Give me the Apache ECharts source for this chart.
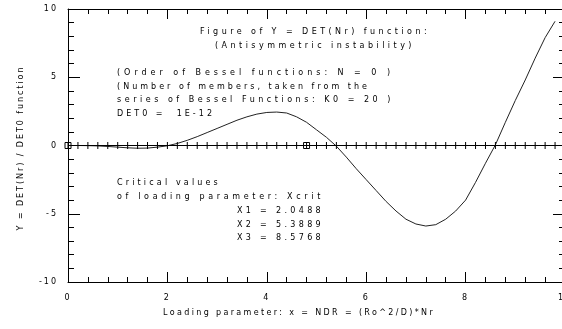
<!DOCTYPE html>
<html><head><meta charset="utf-8">
<script src="https://cdn.jsdelivr.net/npm/echarts@6/dist/echarts.min.js"></script>
<style>
html,body{margin:0;padding:0;background:#fff;}
#c{width:562px;height:329px;}
</style></head>
<body><div id="c"></div>
<script>
const xVals = [0,0.2,0.4,0.6,0.8,1.0,1.2,1.4,1.6,1.8,2.0,2.2,2.4,2.6,2.8,3.0,3.2,3.4,3.6,3.8,4.0,4.2,4.4,4.6,4.8,5.0,5.2,5.4,5.6,5.8,6.0,6.2,6.4,6.6,6.8,7.0,7.2,7.4,7.6,7.8,8.0,8.2,8.4,8.6,8.8,9.0,9.2,9.4,9.6,9.8];
const yVals = [0,0,-0.01,-0.03,-0.07,-0.12,-0.17,-0.2,-0.19,-0.12,-0.02,0.15,0.38,0.65,0.95,1.25,1.55,1.85,2.1,2.3,2.42,2.45,2.38,2.1,1.7,1.15,0.6,-0.05,-0.85,-1.7,-2.5,-3.3,-4.1,-4.8,-5.4,-5.75,-5.9,-5.8,-5.4,-4.8,-4.0,-2.7,-1.3,0.05,1.7,3.3,4.8,6.4,7.9,9.1];
const zeroLineTicks = [0,0.2,0.4,0.6,0.8,1.0,1.2,1.4,1.6,1.8,2.0,2.2,2.4,2.6,2.8,3.0,3.2,3.4,3.6,3.8,4.0,4.2,4.4,4.6,4.8,5.0,5.2,5.4,5.6,5.8,6.0,6.2,6.4,6.6,6.8,7.0,7.2,7.4,7.6,7.8,8.0,8.2,8.4,8.6,8.8,9.0,9.2,9.4,9.6,9.8];
const squareMarks = [0, 4.8];
const titleLines = ["Figure of Y = DET(Nr) function:", "(Antisymmetric instability)"];
const infoLines = ["(Order of Bessel functions: N = 0 )", "(Number of members, taken from the", "series of Bessel Functions: K0 = 20 )", "DET0 =  1E-12"];
const critLines = ["Critical values", "of loading parameter: Xcrit"];
const critVals = ["X1 = 2.0488", "X2 = 5.3889", "X3 = 8.5768"];
const xName = "Loading parameter: x = NDR = (Ro^2/D)*Nr";
const yName = "Y = DET(Nr) / DET0 function";

// letter-spacing support for canvas text: family marker "lsNNN" => NNN/100 px
(function(){
  const P = CanvasRenderingContext2D.prototype;
  const d = Object.getOwnPropertyDescriptor(P, 'font');
  Object.defineProperty(P, 'font', {configurable:true,
    get(){ return d.get.call(this); },
    set(v){ d.set.call(this, v); const m = /ls(\d+)/.exec(v); try { this.letterSpacing = m ? (m[1]/100) + 'px' : '0px'; } catch(e){} }
  });
})();

const BASE = "'DejaVu Sans'";
const FS = 8;
const mctx = document.createElement('canvas').getContext('2d');
function natural(s){ mctx.font = FS + 'px ' + BASE; return mctx.measureText(s).width; }
function spacedFont(s, target){
  const sp = Math.max(0, (target - natural(s)) / s.length);
  return FS + 'px ' + BASE + ', ls' + Math.round(sp*100);
}

const chart = echarts.init(document.getElementById('c'), null, {renderer:'canvas'});

function txt(s, x, y, w) {
  return {type:'text', x:x, y:y, silent:true,
    style:{text:s, fill:'#000', font: spacedFont(s, w), textAlign:'left', textVerticalAlign:'middle'}};
}
const graphics = [];
graphics.push(txt(titleLines[0], 200, 32, 230));
graphics.push(txt(titleLines[1], 215, 46, 200));
const infoW = [277, 253, 277, 98];
infoLines.forEach((s,i)=>graphics.push(txt(s, 117, 73 + i*13.7, infoW[i])));
const critW = [104, 207];
critLines.forEach((s,i)=>graphics.push(txt(s, 117, 183 + i*13.7, critW[i])));
critVals.forEach((s,i)=>graphics.push(txt(s, 237, 211 + i*13.5, 87)));
graphics.push(txt(xName, 163, 313, 272));
graphics.push({type:'text', x:21, y:148, rotation:Math.PI/2, silent:true,
  style:{text:yName, fill:'#000', font: spacedFont(yName, 165), textAlign:'center', textVerticalAlign:'middle'}});

const LABEL_FONT_FAMILY = BASE + ', ls200';
function xAx(pos, labels){
  return {type:'value', min:0, max:10, interval:2, position:pos,
    axisLine:{show:true, onZero:false, lineStyle:{color:'#000', width:1}},
    axisTick:{show:true, inside:true, length:10, lineStyle:{color:'#000', width:1}},
    minorTick:{show:true, splitNumber:5, length:5, lineStyle:{color:'#000', width:1}},
    splitLine:{show:false}, minorSplitLine:{show:false},
    axisLabel:{show:labels, color:'#000', fontSize:FS, fontFamily:LABEL_FONT_FAMILY, margin:11}};
}
function yAx(pos, labels){
  return {type:'value', min:-10, max:10, interval:5, position:pos,
    axisLine:{show:true, onZero:false, lineStyle:{color:'#000', width:1}},
    axisTick:{show:true, inside:true, length:12, lineStyle:{color:'#000', width:1}},
    minorTick:{show:true, splitNumber:5, length:6, lineStyle:{color:'#000', width:1}},
    splitLine:{show:false}, minorSplitLine:{show:false},
    axisLabel:{show:labels, color:'#000', fontSize:FS, fontFamily:LABEL_FONT_FAMILY, margin:10}};
}

chart.setOption({
  animation:false,
  backgroundColor:'#fff',
  grid:{left:68, top:9, width:497, height:273, containLabel:false, outerBoundsMode:'none'},
  xAxis:[xAx('bottom', true), xAx('top', false)],
  yAxis:[yAx('left', true), yAx('right', false)],
  graphic:graphics,
  series:[
    {type:'line', data:xVals.map((x,i)=>[x,yVals[i]]), showSymbol:false, symbol:'none',
     lineStyle:{color:'#222', width:1}, smooth:false, z:3,
     markLine:{silent:true, symbol:['none','none'], label:{show:false},
       lineStyle:{color:'#000', width:1, type:'solid'}, data:[{yAxis:0}]}},
    {type:'scatter', data:zeroLineTicks.map(x=>[x,0]), symbol:'rect', symbolSize:[1,7],
     itemStyle:{color:'#000', opacity:1}, silent:true, z:4},
    {type:'scatter', data:squareMarks.map(x=>[x,0]), symbol:'rect', symbolSize:[6,6],
     itemStyle:{color:'rgba(0,0,0,0)', borderColor:'#000', borderWidth:1, opacity:1}, silent:true, z:5}
  ]
});
</script></body></html>
